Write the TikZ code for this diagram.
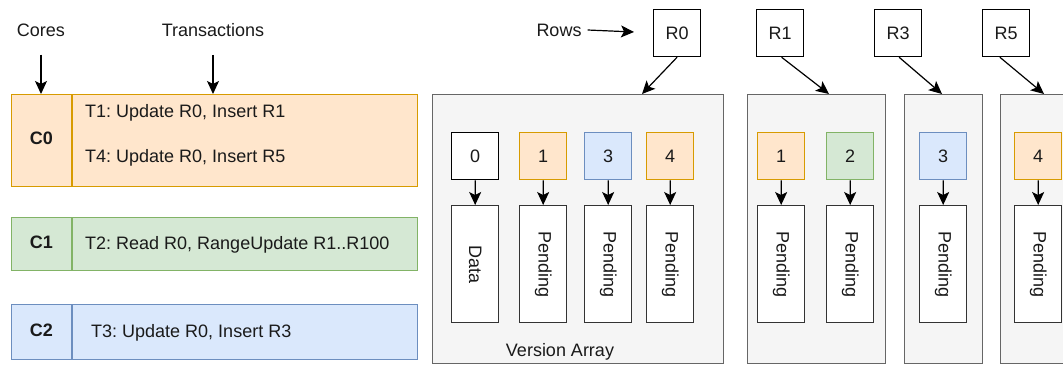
\documentclass[tikz,border=0pt]{standalone}
\usepackage{fontspec}
\setmainfont{Liberation Sans}
\frenchspacing
\usetikzlibrary{arrows.meta,calc}
\definecolor{orfill}{HTML}{FFE6CC}
\definecolor{ordraw}{HTML}{D79B00}
\definecolor{grfill}{HTML}{D5E8D4}
\definecolor{grdraw}{HTML}{82B366}
\definecolor{blfill}{HTML}{DAE8FC}
\definecolor{bldraw}{HTML}{6C8EBF}
\definecolor{vafill}{HTML}{F5F5F5}
\definecolor{vadraw}{HTML}{666666}
\definecolor{ink}{HTML}{1A1A1A}

\tikzset{
  txt/.style={font=\fontsize{18}{21}\selectfont\frenchspacing, text=ink, inner sep=6pt},
  boldtxt/.style={txt, font=\fontsize{18}{21}\selectfont\bfseries},
  arr/.style={draw=black, line width=1.2pt, -{Stealth[length=13pt,width=12pt,inset=3pt]}},
  corebox/.style={draw=#1, line width=1.3pt, anchor=north west, inner sep=0pt, minimum width=406pt},
  rowbox/.style={txt, draw=black, fill=white, line width=1.2pt, anchor=north west, inner sep=0pt,
                 minimum width=47pt, minimum height=47pt},
  varray/.style={draw=vadraw, fill=vafill, line width=1.2pt, anchor=north west, inner sep=0pt,
                 minimum height=269pt},
  verbox/.style={txt, draw=#1, line width=1.3pt, anchor=north west, inner sep=0pt,
                 minimum width=47pt, minimum height=47pt},
  slot/.style={draw=black!80, fill=white, line width=1.4pt, anchor=north west, inner sep=0pt,
               minimum width=47pt, minimum height=117pt},
  slottxt/.style={txt, rotate=-90, inner sep=0pt},
}

% one version entry: small numbered box above its slot
\newcommand{\vslot}[5]{% name, x, colour style, number, slot text
  \node[verbox={#3}] (#1v) at (#2,132) {#4};
  \node[slot] (#1s) at (#2,205) {};
  \node[slottxt] at (#1s.center) {#5};
  \draw[arr] (#1v) -- (#1s);
}

\begin{document}
\begin{tikzpicture}[x=1pt,y=-1pt]
\clip (0,0) rectangle (1063,365);
\fill[white] (0,0) rectangle (1063,365);

% ---- cores and their transactions ----
\node[txt] (cores) at (41,30) {Cores};
\node[txt] (trans) at (213,30) {Transactions};

\node[corebox=ordraw, fill=orfill, minimum height=92pt] (c0) at (11,94) {};
\node[corebox=grdraw, fill=grfill, minimum height=53pt] (c1) at (11,217) {};
\node[corebox=bldraw, fill=blfill, minimum height=55pt] (c2) at (11,304) {};
\draw[ordraw, line width=1.3pt] (72,94) -- (72,186);
\draw[grdraw, line width=1.3pt] (72,217) -- (72,270);
\draw[bldraw, line width=1.3pt] (72,304) -- (72,359);

\node[boldtxt] (c0l) at (41.5,138) {C0};
\node[boldtxt] (c1l) at (41.5,242) {C1};
\node[boldtxt] (c2l) at (41.5,330) {C2};

\node[txt, anchor=west, inner sep=0pt] (t1) at (85,113) {T1: Update R0, Insert R1};
\node[txt, anchor=west, inner sep=0pt] (t4) at (85,158) {T4: Update R0, Insert R5};
\node[txt, anchor=west, inner sep=0pt] (t2) at (85,245) {T2: Read R0, RangeUpdate R1..R100};
\node[txt, anchor=west, inner sep=0pt] (t3) at (91,333) {T3: Update R0, Insert R3};

\draw[arr, shorten <=12pt] (cores) -- (cores |- c0.north);
\draw[arr, shorten <=12pt] (trans) -- (trans |- c0.north);

% ---- rows and their version arrays ----
\node[txt] (rows) at (559,30) {Rows};
\coordinate (rowsend) at (634,32);
\draw[arr] (rows.east) -- (rowsend);

\node[rowbox] (r0) at (653,9) {R0};
\node[rowbox] (r1) at (756,9) {R1};
\node[rowbox] (r3) at (874,9) {R3};
\node[rowbox] (r5) at (982,9) {R5};

\node[varray, minimum width=291pt] (va0) at (432,94) {};
\node[varray, minimum width=138pt] (va1) at (747,94) {};
\node[varray, minimum width=78pt]  (va3) at (904,94) {};
\node[varray, minimum width=78pt]  (va5) at (1000,94) {};

\node[txt] (valabel) at (560,352) {Version Array};

\coordinate (va0in) at (642,94);
\coordinate (va1in) at (829,94);
\coordinate (va3in) at (942,94);
\coordinate (va5in) at (1044,94);
\draw[arr] (r0.south) -- (va0in);
\draw[arr] ($(r1.south west)!0.53!(r1.south east)$) -- (va1in);
\draw[arr] ($(r3.south west)!0.52!(r3.south east)$) -- (va3in);
\draw[arr] ($(r5.south west)!0.37!(r5.south east)$) -- (va5in);

\vslot{a0}{451}{black, fill=white}{0}{Data}
\vslot{a1}{519}{ordraw, fill=orfill}{1}{Pending}
\vslot{a3}{584}{bldraw, fill=blfill}{3}{Pending}
\vslot{a4}{646}{ordraw, fill=orfill}{4}{Pending}

\vslot{b1}{757}{ordraw, fill=orfill}{1}{Pending}
\vslot{b2}{826}{grdraw, fill=grfill}{2}{Pending}

\vslot{d3}{919}{bldraw, fill=blfill}{3}{Pending}

\vslot{e4}{1014}{ordraw, fill=orfill}{4}{Pending}
\end{tikzpicture}
\end{document}
